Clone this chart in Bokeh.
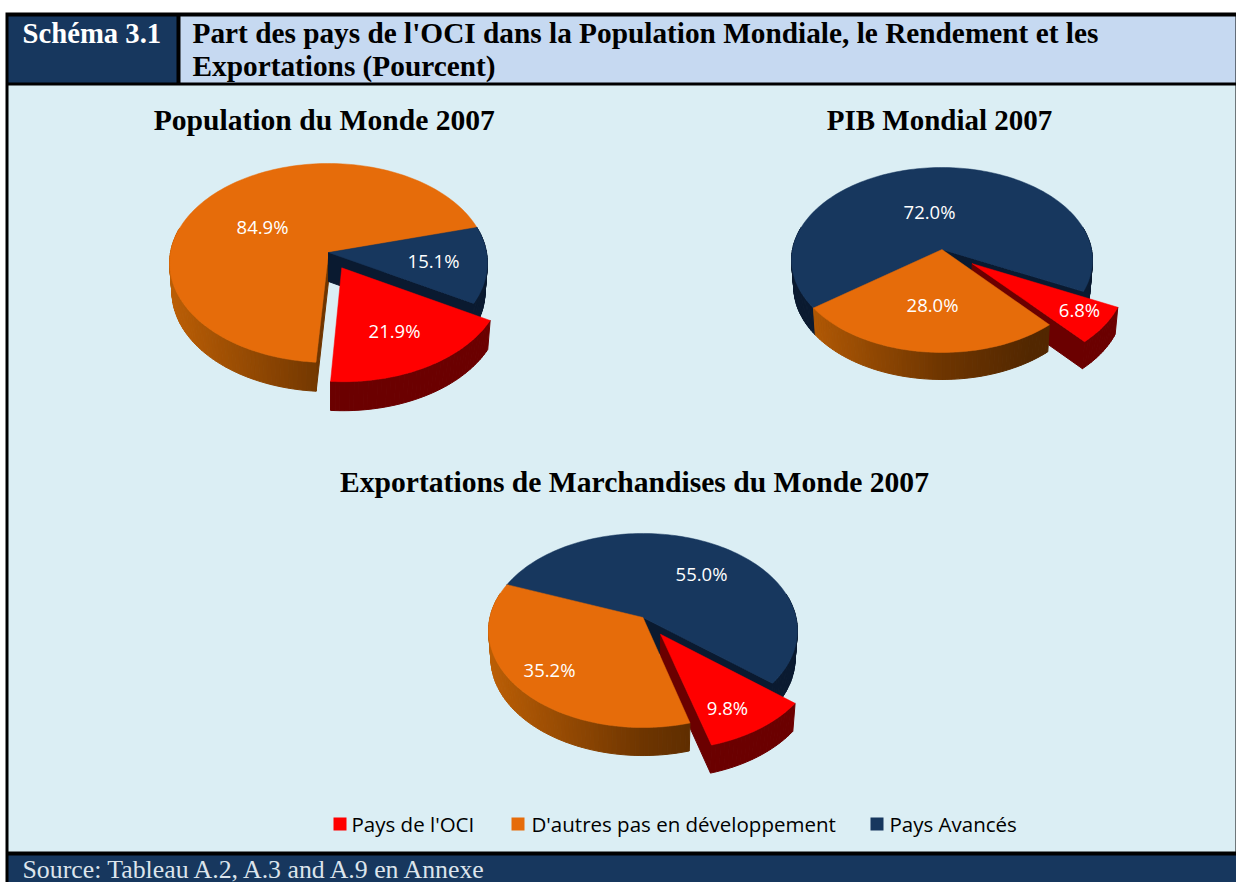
import math
from bokeh.plotting import figure
from bokeh.models import Range1d
from bokeh.core.properties import value
from bokeh.embed import file_html
from bokeh.resources import INLINE

# ---- data ----
categories = ["Pays de l'OCI", "D'autres pas en développement", "Pays Avancés"]
population_titre = "Population  du Monde 2007"
population = [21.9, 84.9, 15.1]
pib_titre = "PIB Mondial 2007"
pib = [6.8, 28.0, 72.0]
exportations_titre = "Exportations de Marchandises du Monde 2007"
exportations = [9.8, 35.2, 55.0]
schema = "Schéma 3.1"
titre = ["Part des pays de l'OCI dans la Population Mondiale, le Rendement et les",
         "Exportations (Pourcent)"]
source = "Source: Tableau A.2, A.3 and A.9 en Annexe"

# ---- styling ----
RED, ORANGE, NAVY = "#FF0000", "#E66C0A", "#17375E"
TOP_COL = [RED, ORANGE, NAVY]
WALL_COL = ["#6B0000", None, "#0A1A30"]
BG, HEAD, BLACK = "#DBEEF4", "#C6D9F1", "#000000"
SERIF = value("Liberation Serif")
SANS = value("Open Sans")

p = figure(width=1236, height=882, output_backend="svg", toolbar_location=None,
           x_range=Range1d(0, 1236), y_range=Range1d(882, 0), min_border=0,
           x_axis_location=None, y_axis_location=None,
           background_fill_color="white", border_fill_color="white",
           outline_line_color=None)
p.grid.visible = False


def box(x0, y0, x1, y1, color):
    p.quad(left=[x0], right=[x1], top=[y0], bottom=[y1], fill_color=color, line_color=None)


def text(x, y, s, font, size, color="black", style="normal", align="left", base="middle"):
    p.text(x=[x], y=[y], text=[s], text_font=font, text_font_size=f"{size}px",
           text_color=color, text_font_style=style, text_align=align, text_baseline=base)


# frame and header
box(5, 12, 1236, 882, BLACK)
box(8, 16, 176, 82, NAVY)
box(180, 16, 1235, 82, HEAD)
box(8, 85, 1235, 851, BG)
box(8, 855, 1236, 882, NAVY)
text(22, 32, schema, SERIF, 28.7, "white", "bold")
text(192, 32, titre[0], SERIF, 29.3, style="bold")
text(192, 65, titre[1], SERIF, 29.3, style="bold")
text(22, 868.5, source, SERIF, 25.8, "#DCE4EC")


def lerp_hex(a, b, t):
    ca = [int(a[i:i + 2], 16) for i in (1, 3, 5)]
    cb = [int(b[i:i + 2], 16) for i in (1, 3, 5)]
    return "#%02x%02x%02x" % tuple(round(x + (y - x) * t) for x, y in zip(ca, cb))


def orange_wall(t):
    t = max(0.0, min(1.0, t))
    if t < 0.5:
        return lerp_hex("#BB5E05", "#6E3500", t / 0.5)
    return lerp_hex("#6E3500", "#522700", min(1.0, (t - 0.5) / 0.3))


def pie(vals, start, order, draw, g):
    """vals in category order; start is the angle where `order[0]` begins,
    slices run counter-clockwise and are normalised by their sum;
    `draw` gives the painter's order of the slices."""
    ax, ay, A, B, k, depth, ex = g["ax"], g["ay"], g["A"], g["B"], g["k"], g["depth"], g["ex"]
    total = sum(vals)

    def proj(u, v, drop=0.0):
        s = 1 / (1 + k * v)
        shrink = 0.985 if drop else 1.0
        return ax + A * u * s * shrink, ay - B * v * s + drop

    spans = {}
    a = start
    for i in order:
        b = a + vals[i] / total * 360
        spans[i] = (a, b)
        a = b

    for i in draw:
        a0, a1 = spans[i]
        mid = math.radians((a0 + a1) / 2)
        ox, oy = (ex * math.cos(mid), ex * math.sin(mid)) if i == 0 else (0.0, 0.0)
        n = max(2, int((a1 - a0) / 1.5))
        angs = [math.radians(a0 + (a1 - a0) * j / n) for j in range(n + 1)]
        pts = [(ox + math.cos(t), oy + math.sin(t)) for t in angs]
        top = [proj(*q) for q in pts]
        bot = [proj(*q, depth) for q in pts]
        apex, apexb = proj(ox, oy), proj(ox, oy, depth)

        def wall_col(x):
            return orange_wall((x - (ax - A)) / (2 * A)) if i == 1 else WALL_COL[i]

        xs, ys, cols = [], [], []
        if math.cos(math.radians(a0)) > 0:
            xs.append([apex[0], top[0][0], bot[0][0], apexb[0]])
            ys.append([apex[1], top[0][1], bot[0][1], apexb[1]])
            cols.append(wall_col(ax + 0.6 * A))
        if math.cos(math.radians(a1)) < 0:
            xs.append([apex[0], top[-1][0], bot[-1][0], apexb[0]])
            ys.append([apex[1], top[-1][1], bot[-1][1], apexb[1]])
            cols.append(wall_col(ax))
        for j in range(n):
            if pts[j][1] < oy + 0.25 or pts[j + 1][1] < oy + 0.25:
                xs.append([top[j][0], top[j + 1][0], bot[j + 1][0], bot[j][0]])
                ys.append([top[j][1], top[j + 1][1], bot[j + 1][1], bot[j][1]])
                cols.append(wall_col((top[j][0] + top[j + 1][0]) / 2))
        if xs:
            p.patches(xs, ys, fill_color=cols, line_color=cols, line_width=1)
        p.patch([apex[0]] + [q[0] for q in top], [apex[1]] + [q[1] for q in top],
                fill_color=TOP_COL[i], line_color=TOP_COL[i], line_width=0.5)

    for i, (lx, ly) in zip(range(3), g["labels"]):
        text(lx, ly, f"{vals[i]:.1f}%", SANS, 18.5, "white", align="center")


pie(population, 15.2, [1, 0, 2], [1, 2, 0],
    dict(ax=328, ay=252, A=158, B=98.4, k=0.1055, depth=29, ex=0.174,
         labels=[(394, 330), (262, 226), (433, 260)]))
pie(pib, -26.0, [2, 1, 0], [2, 0, 1],
    dict(ax=941.5, ay=249, A=149.5, B=91.3, k=0.1135, depth=27, ex=0.25,
         labels=[(1079, 309), (932, 304), (929, 211)]))
pie(exportations, -39.2, [2, 1, 0], [2, 0, 1],
    dict(ax=642.5, ay=617, A=153, B=95.3, k=0.134, depth=28, ex=0.205,
         labels=[(727, 707), (549, 669), (701, 573)]))

text(327.5, 119, population_titre, SERIF, 29.6, style="bold", align="center")
text(939, 119, pib_titre, SERIF, 29, style="bold", align="center")
text(634, 481, exportations_titre, SERIF, 29.6, style="bold", align="center")

# legend
for col, name, sx, tx in zip(TOP_COL, categories, (333, 511, 870), (351, 531, 889)):
    box(sx, 817, sx + 13, 830, col)
    text(tx, 823, name, SANS, 20.5)

open("out.html", "w").write(file_html(p, INLINE))
